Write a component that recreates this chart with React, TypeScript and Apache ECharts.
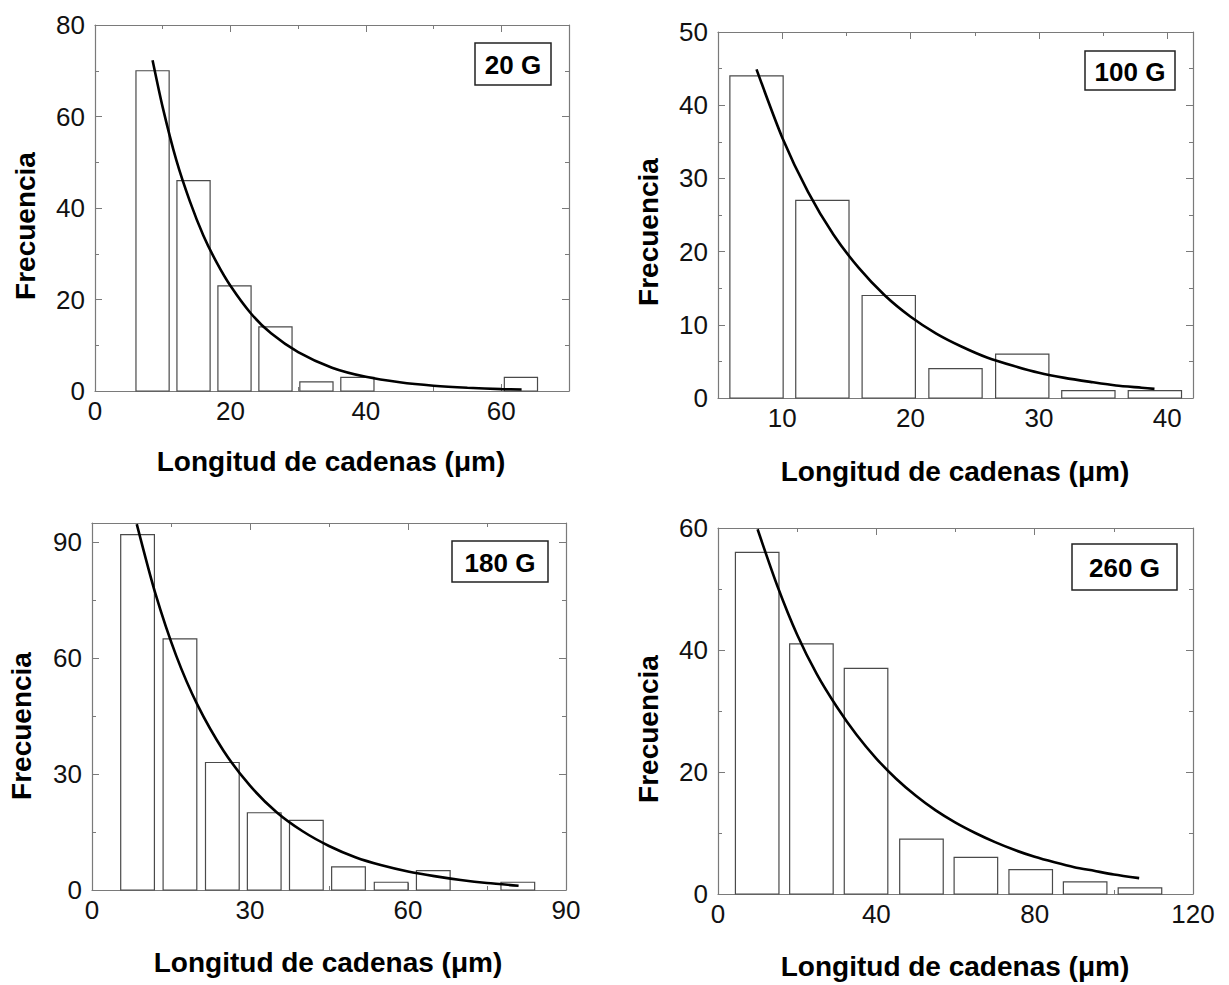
import React, { useEffect, useRef } from "react";
import * as echarts from "echarts";

// ---------- data ----------
const p1Centers = [8.5, 14.55, 20.6, 26.65, 32.7, 38.75, 62.9];
const p1Counts = [70, 46, 23, 14, 2, 3, 3];
const p1FitX = [8.5, 10, 12, 14, 16, 18, 20, 23, 26, 30, 35, 40, 45, 50, 55, 60, 63];
const p1FitY = [72.3, 62, 50.5, 41.5, 34, 28, 23, 17, 12.6, 8.5, 5.1, 3.1, 1.9, 1.15, 0.7, 0.42, 0.32];
const p1XMajor = [0, 20, 40, 60];
const p1XMinor = [10, 30, 50];
const p1YMajor = [0, 20, 40, 60, 80];
const p1YMinor = [10, 30, 50, 70];

const p2Centers = [8.0, 13.13, 18.3, 23.5, 28.7, 33.85, 39.03];
const p2Counts = [44, 27, 14, 4, 6, 1, 1];
const p2FitX = [8, 10, 12, 14, 16, 18, 20, 22, 24, 26, 28, 30, 32, 34, 36, 38, 39];
const p2FitY = [44.9, 35.6, 28.2, 22.3, 17.7, 14.0, 11.1, 8.8, 7.0, 5.5, 4.4, 3.45, 2.75, 2.2, 1.7, 1.4, 1.25];
const p2XMajor = [10, 20, 30, 40];
const p2XMinor = [15, 25, 35];
const p2YMajor = [0, 10, 20, 30, 40, 50];
const p2YMinor = [5, 15, 25, 35, 45];

const p3Centers = [8.65, 16.7, 24.75, 32.7, 40.7, 48.7, 56.8, 64.8, 80.85];
const p3Counts = [92, 65, 33, 20, 18, 6, 2, 5, 2];
const p3FitX = [8.5, 12, 16, 20, 25, 30, 35, 40, 45, 50, 55, 60, 65, 70, 75, 81];
const p3FitY = [94.7, 76.9, 60.6, 48.0, 36.0, 27.0, 20.2, 15.2, 11.4, 8.5, 6.4, 4.8, 3.6, 2.6, 1.8, 1.1];
const p3XMajor = [0, 30, 60, 90];
const p3XMinor = [15, 45, 75];
const p3YMajor = [0, 30, 60, 90];
const p3YMinor = [15, 45, 75];

const p4Centers = [9.9, 23.6, 37.4, 51.4, 65.15, 79.0, 92.75, 106.6];
const p4Counts = [56, 41, 37, 9, 6, 4, 2, 1];
const p4FitX = [10, 15, 20, 25, 30, 35, 40, 45, 50, 55, 60, 65, 70, 75, 80, 85, 90, 95, 100, 106.4];
const p4FitY = [59.8, 50.5, 42.5, 36, 30.7, 26.1, 22.2, 18.9, 16.1, 13.7, 11.7, 10.0, 8.5, 7.2, 6.1, 5.2, 4.4, 3.8, 3.2, 2.6];
const p4XMajor = [0, 40, 80, 120];
const p4XMinor = [20, 60, 100];
const p4YMajor = [0, 20, 40, 60];
const p4YMinor = [10, 30, 50];

const panelLabels = ["20 G", "100 G", "180 G", "260 G"];
const xTitle = "Longitud de cadenas (\u03bcm)";
const yTitle = "Frecuencia";

// ---------- layout / style ----------
const FONT = '"Liberation Sans", Arial, sans-serif';
const BORDER = "#7a7a7a";
const BAR_STROKE = "#4a4a4a";

const panels = [
  {
    grid: { left: 95, top: 25, width: 474, height: 366 },
    xMin: 0, xMax: 70, yMin: 0, yMax: 80, barW: 4.9,
    centers: p1Centers, counts: p1Counts, fitX: p1FitX, fitY: p1FitY,
    xMajor: p1XMajor, xMinor: p1XMinor, yMajor: p1YMajor, yMinor: p1YMinor,
    box: { x: 475, y: 43, w: 76, h: 42 },
    yT: { x: 25, y: 226 }, xT: { x: 331, y: 461 },
  },
  {
    grid: { left: 718, top: 32, width: 475, height: 366 },
    xMin: 5, xMax: 42, yMin: 0, yMax: 50, barW: 4.15,
    centers: p2Centers, counts: p2Counts, fitX: p2FitX, fitY: p2FitY,
    xMajor: p2XMajor, xMinor: p2XMinor, yMajor: p2YMajor, yMinor: p2YMinor,
    box: { x: 1085, y: 51, w: 90, h: 39 },
    yT: { x: 648, y: 232 }, xT: { x: 955, y: 471 },
  },
  {
    grid: { left: 92, top: 523, width: 474, height: 367 },
    xMin: 0, xMax: 90, yMin: 0, yMax: 95, barW: 6.4,
    centers: p3Centers, counts: p3Counts, fitX: p3FitX, fitY: p3FitY,
    xMajor: p3XMajor, xMinor: p3XMinor, yMajor: p3YMajor, yMinor: p3YMinor,
    box: { x: 452, y: 541, w: 96, h: 41 },
    yT: { x: 21, y: 726 }, xT: { x: 328, y: 962 },
  },
  {
    grid: { left: 718, top: 528, width: 475, height: 366 },
    xMin: 0, xMax: 120, yMin: 0, yMax: 60, barW: 11.0,
    centers: p4Centers, counts: p4Counts, fitX: p4FitX, fitY: p4FitY,
    xMajor: p4XMajor, xMinor: p4XMinor, yMajor: p4YMajor, yMinor: p4YMinor,
    box: { x: 1072, y: 544, w: 105, h: 46 },
    yT: { x: 648, y: 729 }, xT: { x: 955, y: 966 },
  },
];

function buildOption() {
  const grids: any[] = [];
  const xAxes: any[] = [];
  const yAxes: any[] = [];
  const series: any[] = [];
  const graphics: any[] = [];

  panels.forEach((p, gi) => {
    grids.push({ ...p.grid, containLabel: false, outerBoundsMode: "none" });

    const base = (min: number, max: number) => ({
      type: "value",
      gridIndex: gi,
      min,
      max,
      splitLine: { show: false },
      axisLine: { show: true, onZero: false, lineStyle: { color: BORDER, width: 1.2 } },
    });
    const labelStyle = { color: "#111", fontSize: 26, fontFamily: FONT };

    const mainX = xAxes.length;
    xAxes.push({
      ...base(p.xMin, p.xMax),
      position: "bottom",
      axisTick: { show: true, inside: true, length: 7, customValues: p.xMajor, lineStyle: { color: BORDER } },
      axisLabel: { show: true, customValues: p.xMajor, margin: 7, ...labelStyle },
    });
    xAxes.push({
      ...base(p.xMin, p.xMax),
      position: "bottom",
      axisLine: { show: false, onZero: false },
      axisTick: { show: true, inside: true, length: 4, customValues: p.xMinor, lineStyle: { color: BORDER } },
      axisLabel: { show: false },
    });
    xAxes.push({
      ...base(p.xMin, p.xMax),
      position: "top",
      axisTick: { show: true, inside: true, length: 7, customValues: p.xMajor, lineStyle: { color: BORDER } },
      axisLabel: { show: false },
    });
    xAxes.push({
      ...base(p.xMin, p.xMax),
      position: "top",
      axisLine: { show: false, onZero: false },
      axisTick: { show: true, inside: true, length: 4, customValues: p.xMinor, lineStyle: { color: BORDER } },
      axisLabel: { show: false },
    });

    const mainY = yAxes.length;
    yAxes.push({
      ...base(p.yMin, p.yMax),
      position: "left",
      axisTick: { show: true, inside: true, length: 7, customValues: p.yMajor, lineStyle: { color: BORDER } },
      axisLabel: { show: true, customValues: p.yMajor, margin: 10, ...labelStyle },
    });
    yAxes.push({
      ...base(p.yMin, p.yMax),
      position: "left",
      axisLine: { show: false, onZero: false },
      axisTick: { show: true, inside: true, length: 4, customValues: p.yMinor, lineStyle: { color: BORDER } },
      axisLabel: { show: false },
    });
    yAxes.push({
      ...base(p.yMin, p.yMax),
      position: "right",
      axisTick: { show: true, inside: true, length: 7, customValues: p.yMajor, lineStyle: { color: BORDER } },
      axisLabel: { show: false },
    });
    yAxes.push({
      ...base(p.yMin, p.yMax),
      position: "right",
      axisLine: { show: false, onZero: false },
      axisTick: { show: true, inside: true, length: 4, customValues: p.yMinor, lineStyle: { color: BORDER } },
      axisLabel: { show: false },
    });

    const w = p.barW;
    series.push({
      type: "custom",
      xAxisIndex: mainX,
      yAxisIndex: mainY,
      clip: false,
      z: 2,
      encode: { x: 0, y: 1 },
      data: p.centers.map((c, i) => [c, p.counts[i]]),
      renderItem: (params: any, api: any) => {
        const c = api.value(0);
        const h = api.value(1);
        const a = api.coord([c - w / 2, h]);
        const b = api.coord([c + w / 2, 0]);
        return {
          type: "rect",
          shape: { x: a[0], y: a[1], width: b[0] - a[0], height: b[1] - a[1] },
          style: { fill: "#ffffff", stroke: BAR_STROKE, lineWidth: 1.2 },
        };
      },
    });

    series.push({
      type: "line",
      xAxisIndex: mainX,
      yAxisIndex: mainY,
      z: 5,
      showSymbol: false,
      symbol: "none",
      smooth: 0.25,
      lineStyle: { color: "#000", width: 2.6 },
      data: p.fitX.map((x, i) => [x, p.fitY[i]]),
    });

    graphics.push({
      type: "rect",
      z: 10,
      shape: { x: p.box.x, y: p.box.y, width: p.box.w, height: p.box.h },
      style: { fill: "#fff", stroke: "#222", lineWidth: 1.5 },
    });
    graphics.push({
      type: "text",
      z: 11,
      x: p.box.x + p.box.w / 2,
      y: p.box.y + p.box.h / 2 + 1,
      style: {
        text: panelLabels[gi],
        font: `bold 26px ${FONT}`,
        fill: "#000",
        align: "center",
        verticalAlign: "middle",
      },
    });
    graphics.push({
      type: "text",
      z: 11,
      x: p.xT.x,
      y: p.xT.y,
      style: {
        text: xTitle,
        font: `bold 28px ${FONT}`,
        fill: "#000",
        align: "center",
        verticalAlign: "middle",
      },
    });
    graphics.push({
      type: "text",
      z: 11,
      x: p.yT.x,
      y: p.yT.y,
      rotation: Math.PI / 2,
      style: {
        text: yTitle,
        font: `bold 28px ${FONT}`,
        fill: "#000",
        align: "center",
        verticalAlign: "middle",
      },
    });
  });

  return {
    animation: false,
    backgroundColor: "#ffffff",
    grid: grids,
    xAxis: xAxes,
    yAxis: yAxes,
    series,
    graphic: graphics,
  };
}

export default function App() {
  const ref = useRef<HTMLDivElement>(null);
  useEffect(() => {
    document.body.style.margin = "0";
    if (!ref.current) return;
    const chart = echarts.init(ref.current, undefined, { renderer: "svg" });
    chart.setOption(buildOption() as any);
    return () => chart.dispose();
  }, []);
  return <div ref={ref} style={{ width: 1229, height: 985, background: "#fff" }} />;
}
